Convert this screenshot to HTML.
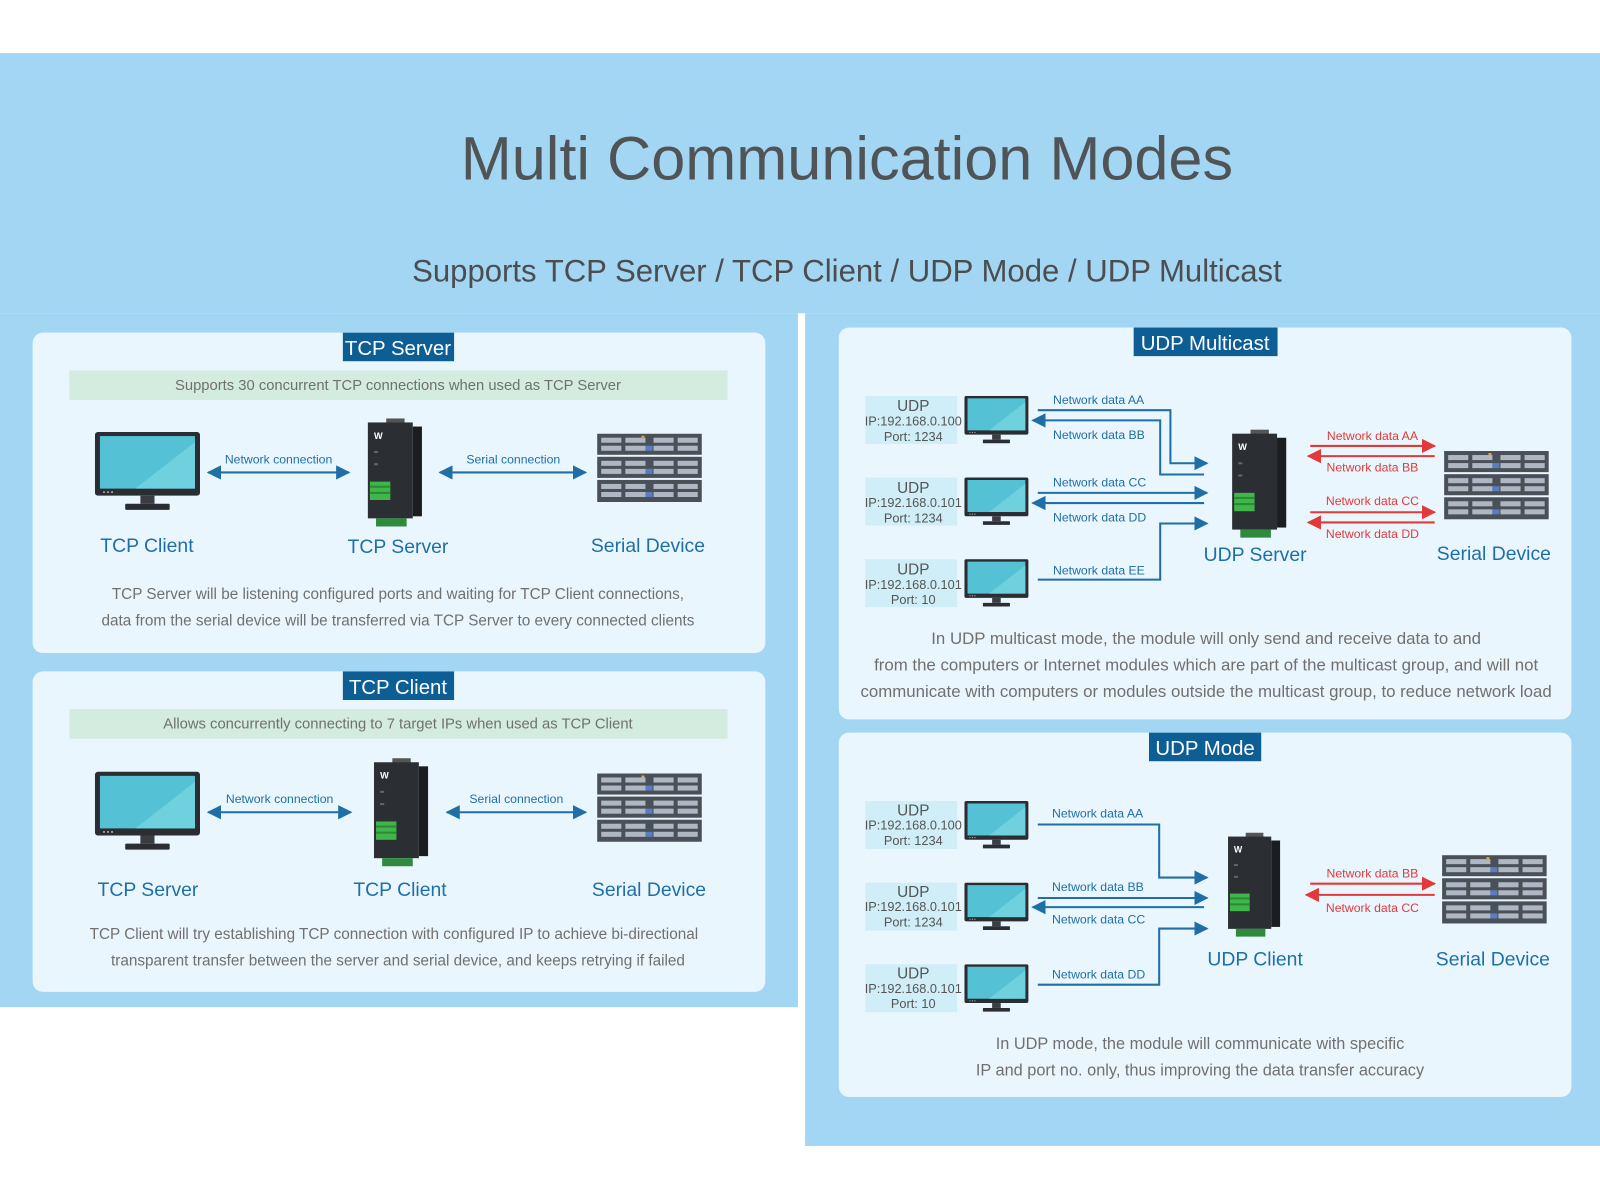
<!DOCTYPE html>
<html><head><meta charset="utf-8"><style>
html,body{margin:0;padding:0;background:#fff;}
svg{display:block;}
text{font-family:"Liberation Sans",sans-serif;}
</style></head><body>
<svg width="1600" height="1200" viewBox="0 0 1568 1176" xmlns="http://www.w3.org/2000/svg">
<defs>
<marker id="ab" viewBox="0 0 10 10" refX="9" refY="5" markerWidth="7" markerHeight="7" orient="auto-start-reverse"><path d="M0,0 L10,5 L0,10 z" fill="#1f6fa6"/></marker>
<marker id="ar" viewBox="0 0 10 10" refX="9" refY="5" markerWidth="7" markerHeight="7" orient="auto-start-reverse"><path d="M0,0 L10,5 L0,10 z" fill="#e23a3a"/></marker>
<symbol id="mon" viewBox="0 0 104 78">
<rect x="0" y="0" width="104" height="63" rx="3" fill="#2a2e33"/>
<rect x="5" y="4" width="94" height="52" fill="#54c2d4"/>
<path d="M40,56 L99,10 L99,56 z" fill="#6fd0de"/>
<circle cx="9" cy="59.5" r="1" fill="#aaa"/><circle cx="13" cy="59.5" r="1" fill="#aaa"/><circle cx="17" cy="59.5" r="1" fill="#aaa"/>
<rect x="45" y="63" width="14" height="8" fill="#3a3e42"/>
<rect x="30" y="71" width="44" height="6" rx="1" fill="#2a2e33"/>
</symbol>
<symbol id="mod" viewBox="0 0 56 106">
<rect x="20" y="0" width="18" height="6" fill="#555"/>
<rect x="2" y="4" width="44" height="94" fill="#2b2f33"/>
<rect x="46" y="8" width="9" height="88" fill="#1b1e21"/>
<text x="8" y="20" font-size="9" fill="#fff" font-weight="bold">W</text>
<rect x="8" y="32" width="4" height="2" fill="#666"/><rect x="8" y="44" width="4" height="2" fill="#666"/>
<rect x="4" y="62" width="20" height="18" fill="#3fb54a"/>
<rect x="4" y="66" width="20" height="2" fill="#2a8a36"/><rect x="4" y="72" width="20" height="2" fill="#2a8a36"/>
<rect x="10" y="98" width="30" height="8" fill="#2e8b3e"/>
</symbol>
<symbol id="rack" viewBox="0 0 104 68">
<g fill="#4a5058"><rect x="0" y="0" width="104" height="21"/><rect x="0" y="23" width="104" height="21"/><rect x="0" y="46" width="104" height="22"/></g>
<g fill="#aeb8c4">
<rect x="4" y="4" width="20" height="5"/><rect x="28" y="4" width="20" height="5"/><rect x="56" y="4" width="20" height="5"/><rect x="80" y="4" width="20" height="5"/>
<rect x="4" y="12" width="20" height="5"/><rect x="28" y="12" width="20" height="5"/><rect x="56" y="12" width="20" height="5"/><rect x="80" y="12" width="20" height="5"/>
<rect x="4" y="27" width="20" height="5"/><rect x="28" y="27" width="20" height="5"/><rect x="56" y="27" width="20" height="5"/><rect x="80" y="27" width="20" height="5"/>
<rect x="4" y="35" width="20" height="5"/><rect x="28" y="35" width="20" height="5"/><rect x="56" y="35" width="20" height="5"/><rect x="80" y="35" width="20" height="5"/>
<rect x="4" y="50" width="20" height="5"/><rect x="28" y="50" width="20" height="5"/><rect x="56" y="50" width="20" height="5"/><rect x="80" y="50" width="20" height="5"/>
<rect x="4" y="58" width="20" height="5"/><rect x="28" y="58" width="20" height="5"/><rect x="56" y="58" width="20" height="5"/><rect x="80" y="58" width="20" height="5"/>
</g>
<g fill="#5b7cc0"><rect x="48" y="12" width="7" height="5"/><rect x="48" y="35" width="7" height="5"/><rect x="48" y="58" width="7" height="5"/></g>
<rect x="44" y="2" width="3" height="2" fill="#e8a030"/>
</symbol>
</defs>

<rect x="0" y="52" width="1568" height="255" fill="#a3d6f2"/>
<rect x="0" y="307" width="782" height="680" fill="#a3d6f2"/>
<rect x="789" y="307" width="779" height="816" fill="#a3d6f2"/>

<text x="830" y="176" font-size="60" fill="#505457" text-anchor="middle">Multi Communication Modes</text>
<text x="830" y="276" font-size="30.5" fill="#4a4e52" text-anchor="middle">Supports TCP Server / TCP Client / UDP Mode / UDP Multicast</text>

<rect x="32" y="326" width="718" height="314" rx="10" fill="#eaf6fd"/>
<rect x="336" y="326" width="109" height="28" fill="#0e5e96"/>
<text x="390" y="348" font-size="20" fill="#fff" text-anchor="middle">TCP Server</text>
<rect x="68" y="363" width="645" height="29" fill="#d4ece0"/>
<text x="390" y="382" font-size="14.5" fill="#707070" text-anchor="middle">Supports 30 concurrent TCP connections when used as TCP Server</text>
<use href="#mon" x="93" y="423" width="103" height="78"/>
<use href="#mod" x="358" y="410" width="57" height="106"/>
<use href="#rack" x="585" y="425" width="103" height="67"/>
<line x1="204" y1="463" x2="342" y2="463" stroke="#1f6fa6" stroke-width="2" marker-start="url(#ab)" marker-end="url(#ab)"/>
<text x="273" y="454" font-size="12" fill="#1f6fa6" text-anchor="middle">Network connection</text>
<line x1="431" y1="463" x2="574" y2="463" stroke="#1f6fa6" stroke-width="2" marker-start="url(#ab)" marker-end="url(#ab)"/>
<text x="503" y="454" font-size="12" fill="#1f6fa6" text-anchor="middle">Serial connection</text>
<g font-size="19" fill="#1e6fa8" text-anchor="middle"><text x="144" y="541">TCP Client</text><text x="390" y="542">TCP Server</text><text x="635" y="541">Serial Device</text></g>
<g font-size="15" fill="#707070" text-anchor="middle"><text x="390" y="587">TCP Server will be listening configured ports and waiting for TCP Client connections,</text><text x="390" y="613">data from the serial device will be transferred via TCP Server to every connected clients</text></g>

<rect x="32" y="658" width="718" height="314" rx="10" fill="#eaf6fd"/>
<rect x="336" y="658" width="109" height="28" fill="#0e5e96"/>
<text x="390" y="680" font-size="20" fill="#fff" text-anchor="middle">TCP Client</text>
<rect x="68" y="695" width="645" height="29" fill="#d4ece0"/>
<text x="390" y="714" font-size="14.5" fill="#707070" text-anchor="middle">Allows concurrently connecting to 7 target IPs when used as TCP Client</text>
<use href="#mon" x="93" y="756" width="103" height="78"/>
<use href="#mod" x="364" y="743" width="57" height="106"/>
<use href="#rack" x="585" y="758" width="103" height="67"/>
<line x1="204" y1="796" x2="344" y2="796" stroke="#1f6fa6" stroke-width="2" marker-start="url(#ab)" marker-end="url(#ab)"/>
<text x="274" y="787" font-size="12" fill="#1f6fa6" text-anchor="middle">Network connection</text>
<line x1="438" y1="796" x2="574" y2="796" stroke="#1f6fa6" stroke-width="2" marker-start="url(#ab)" marker-end="url(#ab)"/>
<text x="506" y="787" font-size="12" fill="#1f6fa6" text-anchor="middle">Serial connection</text>
<g font-size="19" fill="#1e6fa8" text-anchor="middle"><text x="145" y="878">TCP Server</text><text x="392" y="878">TCP Client</text><text x="636" y="878">Serial Device</text></g>
<g font-size="15" fill="#707070" text-anchor="middle"><text x="386" y="920">TCP Client will try establishing TCP connection with configured IP to achieve bi-directional</text><text x="390" y="946">transparent transfer between the server and serial device, and keeps retrying if failed</text></g>

<rect x="822" y="321" width="718" height="384" rx="10" fill="#eaf6fd"/>
<rect x="1111" y="321" width="141" height="28" fill="#0e5e96"/>
<text x="1181" y="343" font-size="20" fill="#fff" text-anchor="middle">UDP Multicast</text>
<g>
<rect x="848" y="388" width="90" height="47" fill="#cfeef8"/>
<rect x="848" y="468" width="90" height="47" fill="#cfeef8"/>
<rect x="848" y="548" width="90" height="47" fill="#cfeef8"/>
<g fill="#555" text-anchor="middle">
<text x="895" y="403" font-size="15">UDP</text><text x="895" y="417" font-size="12.5">IP:192.168.0.100</text><text x="895" y="432" font-size="12.5">Port:  1234</text>
<text x="895" y="483" font-size="15">UDP</text><text x="895" y="497" font-size="12.5">IP:192.168.0.101</text><text x="895" y="512" font-size="12.5">Port:  1234</text>
<text x="895" y="563" font-size="15">UDP</text><text x="895" y="577" font-size="12.5">IP:192.168.0.101</text><text x="895" y="592" font-size="12.5">Port:  10</text>
</g>
<use href="#mon" x="945" y="388" width="63" height="47"/>
<use href="#mon" x="945" y="468" width="63" height="47"/>
<use href="#mon" x="945" y="548" width="63" height="47"/>
</g>
<g stroke="#1f6fa6" stroke-width="2" fill="none">
<polyline points="1017,402 1147,402 1147,454 1183,454" marker-end="url(#ab)"/>
<polyline points="1180,465 1137,465 1137,412 1012,412" marker-end="url(#ab)"/>
<line x1="1017" y1="483" x2="1183" y2="483" marker-end="url(#ab)"/>
<line x1="1180" y1="493" x2="1012" y2="493" marker-end="url(#ab)"/>
<polyline points="1017,568 1137,568 1137,513 1183,513" marker-end="url(#ab)"/>
</g>
<g font-size="12" fill="#1f6fa6">
<text x="1032" y="396">Network data AA</text><text x="1032" y="430">Network data BB</text><text x="1032" y="477">Network data CC</text><text x="1032" y="511">Network data DD</text><text x="1032" y="563">Network data EE</text>
</g>
<use href="#mod" x="1205" y="421" width="57" height="106"/>
<use href="#rack" x="1415" y="442" width="103" height="67"/>
<g stroke="#e23a3a" stroke-width="2">
<line x1="1284" y1="437" x2="1406" y2="437" marker-end="url(#ar)"/>
<line x1="1406" y1="447" x2="1282" y2="447" marker-end="url(#ar)"/>
<line x1="1284" y1="502" x2="1406" y2="502" marker-end="url(#ar)"/>
<line x1="1406" y1="512" x2="1282" y2="512" marker-end="url(#ar)"/>
</g>
<g font-size="12" fill="#e23a3a" text-anchor="middle"><text x="1345" y="431">Network data AA</text><text x="1345" y="462">Network data BB</text><text x="1345" y="495">Network data CC</text><text x="1345" y="527">Network data DD</text></g>
<g font-size="19" fill="#1e6fa8" text-anchor="middle"><text x="1230" y="550">UDP Server</text><text x="1464" y="549">Serial Device</text></g>
<g font-size="16.5" fill="#707070" text-anchor="middle"><text x="1182" y="631">In UDP multicast mode, the module will only send and receive data to and</text><text x="1182" y="657">from the computers or Internet modules which are part of the multicast group, and will not</text><text x="1182" y="683">communicate with computers or modules outside the multicast group, to reduce network load</text></g>

<rect x="822" y="718" width="718" height="357" rx="10" fill="#eaf6fd"/>
<rect x="1126" y="718" width="110" height="28" fill="#0e5e96"/>
<text x="1181" y="740" font-size="20" fill="#fff" text-anchor="middle">UDP Mode</text>
<g>
<rect x="848" y="785" width="90" height="47" fill="#cfeef8"/>
<rect x="848" y="865" width="90" height="47" fill="#cfeef8"/>
<rect x="848" y="945" width="90" height="47" fill="#cfeef8"/>
<g fill="#555" text-anchor="middle">
<text x="895" y="799" font-size="15">UDP</text><text x="895" y="813" font-size="12.5">IP:192.168.0.100</text><text x="895" y="828" font-size="12.5">Port:  1234</text>
<text x="895" y="879" font-size="15">UDP</text><text x="895" y="893" font-size="12.5">IP:192.168.0.101</text><text x="895" y="908" font-size="12.5">Port:  1234</text>
<text x="895" y="959" font-size="15">UDP</text><text x="895" y="973" font-size="12.5">IP:192.168.0.101</text><text x="895" y="988" font-size="12.5">Port:  10</text>
</g>
<use href="#mon" x="945" y="785" width="63" height="47"/>
<use href="#mon" x="945" y="865" width="63" height="47"/>
<use href="#mon" x="945" y="945" width="63" height="47"/>
</g>
<g stroke="#1f6fa6" stroke-width="2" fill="none">
<polyline points="1017,808 1136,808 1136,860 1183,860" marker-end="url(#ab)"/>
<line x1="1017" y1="880" x2="1183" y2="880" marker-end="url(#ab)"/>
<line x1="1180" y1="889" x2="1012" y2="889" marker-end="url(#ab)"/>
<polyline points="1017,965 1136,965 1136,910 1183,910" marker-end="url(#ab)"/>
</g>
<g font-size="12" fill="#1f6fa6">
<text x="1031" y="801">Network data AA</text><text x="1031" y="873">Network data BB</text><text x="1031" y="905">Network data CC</text><text x="1031" y="959">Network data DD</text>
</g>
<use href="#mod" x="1200" y="816" width="57" height="102"/>
<use href="#rack" x="1413" y="838" width="103" height="67"/>
<g stroke="#e23a3a" stroke-width="2">
<line x1="1284" y1="866" x2="1406" y2="866" marker-end="url(#ar)"/>
<line x1="1406" y1="877" x2="1280" y2="877" marker-end="url(#ar)"/>
</g>
<g font-size="12" fill="#e23a3a" text-anchor="middle"><text x="1345" y="860">Network data BB</text><text x="1345" y="894">Network data CC</text></g>
<g font-size="19" fill="#1e6fa8" text-anchor="middle"><text x="1230" y="946">UDP Client</text><text x="1463" y="946">Serial Device</text></g>
<g font-size="16" fill="#707070" text-anchor="middle"><text x="1176" y="1028">In UDP mode, the module will communicate with specific</text><text x="1176" y="1054">IP and port no. only, thus improving the data transfer accuracy</text></g>
</svg>
</body></html>
